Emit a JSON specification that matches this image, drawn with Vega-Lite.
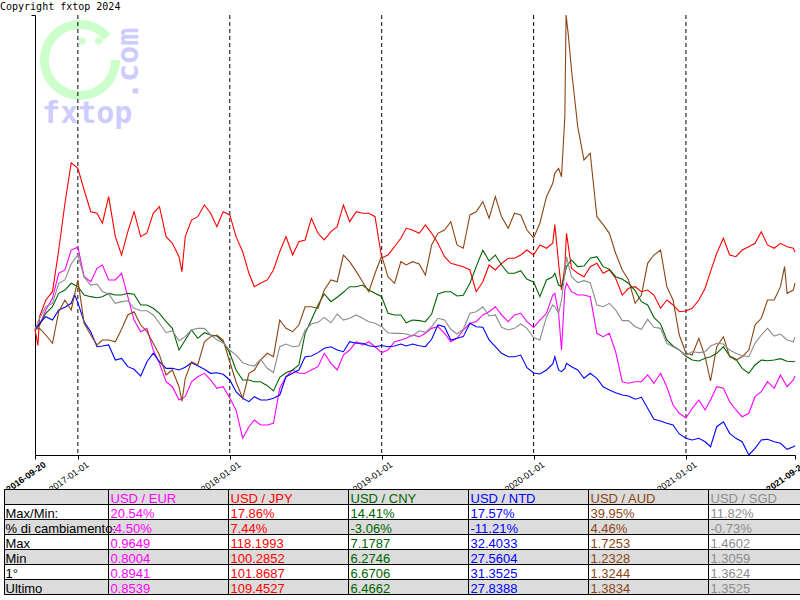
{
"$schema": "https://vega.github.io/schema/vega-lite/v6.json",
"width": 760, "height": 440,
"autosize": "none",
"padding": {"left": 35, "top": 15, "right": 5, "bottom": 145},
"background": "white",
"config": {"view": {"stroke": null}, "font": "Liberation Sans"},
"title": {"text": "Copyright fxtop 2024", "anchor": "start", "frame": "group", "dx": -35, "offset": -7, "font": "DejaVu Sans Mono", "fontSize": 10, "fontWeight": "normal", "color": "black", "baseline": "alphabetic"},
"datasets": {
"fx": [
{"d":"2016-09-20","s":"EUR","v":100},{"d":"2016-10-01","s":"EUR","v":100.42},{"d":"2016-10-16","s":"EUR","v":101.87},{"d":"2016-11-01","s":"EUR","v":102.99},{"d":"2016-11-16","s":"EUR","v":105.4},{"d":"2016-12-01","s":"EUR","v":105.72},{"d":"2016-12-16","s":"EUR","v":107.64},
{"d":"2017-01-01","s":"EUR","v":107.92},{"d":"2017-01-16","s":"EUR","v":105.07},{"d":"2017-02-01","s":"EUR","v":104.59},{"d":"2017-02-16","s":"EUR","v":105.88},{"d":"2017-03-01","s":"EUR","v":106.2},{"d":"2017-03-16","s":"EUR","v":104.76},{"d":"2017-04-01","s":"EUR","v":104.76},{"d":"2017-04-16","s":"EUR","v":105.4},{"d":"2017-05-01","s":"EUR","v":103.15},{"d":"2017-05-16","s":"EUR","v":100.9},{"d":"2017-06-01","s":"EUR","v":99.78},{"d":"2017-06-16","s":"EUR","v":100.11},{"d":"2017-07-01","s":"EUR","v":98.01},{"d":"2017-07-16","s":"EUR","v":96.73},{"d":"2017-08-01","s":"EUR","v":94.96},{"d":"2017-08-16","s":"EUR","v":94.48},{"d":"2017-09-01","s":"EUR","v":93.2},{"d":"2017-09-16","s":"EUR","v":93.52},{"d":"2017-10-01","s":"EUR","v":94.96},{"d":"2017-10-16","s":"EUR","v":95.44},{"d":"2017-11-01","s":"EUR","v":95.77},{"d":"2017-11-16","s":"EUR","v":95.13},{"d":"2017-12-01","s":"EUR","v":94.33},{"d":"2017-12-16","s":"EUR","v":94.48},
{"d":"2018-01-01","s":"EUR","v":93.39},{"d":"2018-01-16","s":"EUR","v":92.24},{"d":"2018-02-01","s":"EUR","v":89.52},{"d":"2018-02-16","s":"EUR","v":90.63},{"d":"2018-03-01","s":"EUR","v":91.27},{"d":"2018-03-16","s":"EUR","v":90.79},{"d":"2018-04-01","s":"EUR","v":90.79},{"d":"2018-04-16","s":"EUR","v":90.96},{"d":"2018-05-01","s":"EUR","v":94.33},{"d":"2018-05-16","s":"EUR","v":95.44},{"d":"2018-06-01","s":"EUR","v":96.09},{"d":"2018-06-16","s":"EUR","v":95.77},{"d":"2018-07-01","s":"EUR","v":95.77},{"d":"2018-07-16","s":"EUR","v":96.09},{"d":"2018-08-01","s":"EUR","v":96.41},{"d":"2018-08-16","s":"EUR","v":97.7},{"d":"2018-09-01","s":"EUR","v":96.73},{"d":"2018-09-16","s":"EUR","v":96.09},{"d":"2018-10-01","s":"EUR","v":97.53},{"d":"2018-10-16","s":"EUR","v":98.01},{"d":"2018-11-01","s":"EUR","v":98.81},{"d":"2018-11-16","s":"EUR","v":98.5},{"d":"2018-12-01","s":"EUR","v":98.81},{"d":"2018-12-16","s":"EUR","v":98.33},
{"d":"2019-01-01","s":"EUR","v":97.77},{"d":"2019-01-16","s":"EUR","v":98.01},{"d":"2019-02-01","s":"EUR","v":98.81},{"d":"2019-02-16","s":"EUR","v":98.98},{"d":"2019-03-01","s":"EUR","v":99.14},{"d":"2019-03-16","s":"EUR","v":99.46},{"d":"2019-04-01","s":"EUR","v":99.3},{"d":"2019-04-16","s":"EUR","v":99.62},{"d":"2019-05-01","s":"EUR","v":100.1},{"d":"2019-05-16","s":"EUR","v":100.26},{"d":"2019-06-01","s":"EUR","v":99.62},{"d":"2019-06-16","s":"EUR","v":98.81},{"d":"2019-07-01","s":"EUR","v":99.14},{"d":"2019-07-16","s":"EUR","v":99.94},{"d":"2019-08-01","s":"EUR","v":100.59},{"d":"2019-08-16","s":"EUR","v":100.74},{"d":"2019-09-01","s":"EUR","v":101.39},{"d":"2019-09-16","s":"EUR","v":101.7},{"d":"2019-10-01","s":"EUR","v":102.18},{"d":"2019-10-16","s":"EUR","v":101.39},{"d":"2019-11-01","s":"EUR","v":100.74},{"d":"2019-11-16","s":"EUR","v":101.39},{"d":"2019-12-01","s":"EUR","v":101.55},{"d":"2019-12-16","s":"EUR","v":100.74},
{"d":"2020-01-01","s":"EUR","v":100.18},{"d":"2020-01-16","s":"EUR","v":100.9},{"d":"2020-02-01","s":"EUR","v":101.55},{"d":"2020-02-16","s":"EUR","v":103.31},{"d":"2020-02-21","s":"EUR","v":103.47},{"d":"2020-03-01","s":"EUR","v":101.55},{"d":"2020-03-08","s":"EUR","v":98.01},{"d":"2020-03-16","s":"EUR","v":103.79},{"d":"2020-03-20","s":"EUR","v":104.44},{"d":"2020-04-01","s":"EUR","v":103.63},{"d":"2020-04-16","s":"EUR","v":103.31},{"d":"2020-05-01","s":"EUR","v":103.31},{"d":"2020-05-16","s":"EUR","v":103.15},{"d":"2020-06-01","s":"EUR","v":99.62},{"d":"2020-06-16","s":"EUR","v":99.3},{"d":"2020-07-01","s":"EUR","v":99.62},{"d":"2020-07-16","s":"EUR","v":97.85},{"d":"2020-08-01","s":"EUR","v":94.96},{"d":"2020-08-16","s":"EUR","v":94.81},{"d":"2020-09-01","s":"EUR","v":94.96},{"d":"2020-09-16","s":"EUR","v":94.96},{"d":"2020-10-01","s":"EUR","v":95.61},{"d":"2020-10-16","s":"EUR","v":94.81},{"d":"2020-11-01","s":"EUR","v":95.77},{"d":"2020-11-16","s":"EUR","v":94.48},{"d":"2020-12-01","s":"EUR","v":92.72},{"d":"2020-12-16","s":"EUR","v":91.92},
{"d":"2021-01-01","s":"EUR","v":91.47},{"d":"2021-01-16","s":"EUR","v":92.4},{"d":"2021-02-01","s":"EUR","v":93.2},{"d":"2021-02-16","s":"EUR","v":92.24},{"d":"2021-03-01","s":"EUR","v":93.2},{"d":"2021-03-16","s":"EUR","v":94.48},{"d":"2021-04-01","s":"EUR","v":94.33},{"d":"2021-04-16","s":"EUR","v":93.04},{"d":"2021-05-01","s":"EUR","v":92.24},{"d":"2021-05-16","s":"EUR","v":91.59},{"d":"2021-06-01","s":"EUR","v":91.92},{"d":"2021-06-16","s":"EUR","v":93.52},{"d":"2021-07-01","s":"EUR","v":94.0},{"d":"2021-07-16","s":"EUR","v":94.96},{"d":"2021-08-01","s":"EUR","v":94.33},{"d":"2021-08-16","s":"EUR","v":95.61},{"d":"2021-09-01","s":"EUR","v":94.48},{"d":"2021-09-16","s":"EUR","v":95.13},{"d":"2021-09-20","s":"EUR","v":95.5},

{"d":"2016-09-20","s":"JPY","v":100},{"d":"2016-09-27","s":"JPY","v":98.45},{"d":"2016-10-01","s":"JPY","v":101.22},{"d":"2016-10-16","s":"JPY","v":102.83},{"d":"2016-11-01","s":"JPY","v":103.63},{"d":"2016-11-16","s":"JPY","v":107.64},{"d":"2016-12-01","s":"JPY","v":112.14},{"d":"2016-12-16","s":"JPY","v":116.03},
{"d":"2017-01-01","s":"JPY","v":115.51},{"d":"2017-01-16","s":"JPY","v":113.42},{"d":"2017-02-01","s":"JPY","v":111.33},{"d":"2017-02-16","s":"JPY","v":111.18},{"d":"2017-03-01","s":"JPY","v":110.22},{"d":"2017-03-16","s":"JPY","v":112.78},{"d":"2017-04-01","s":"JPY","v":108.93},{"d":"2017-04-16","s":"JPY","v":107.16},{"d":"2017-05-01","s":"JPY","v":109.41},{"d":"2017-05-16","s":"JPY","v":111.33},{"d":"2017-06-01","s":"JPY","v":108.93},{"d":"2017-06-16","s":"JPY","v":109.28},{"d":"2017-07-01","s":"JPY","v":111.18},{"d":"2017-07-16","s":"JPY","v":111.81},{"d":"2017-08-01","s":"JPY","v":108.93},{"d":"2017-08-16","s":"JPY","v":108.29},{"d":"2017-09-01","s":"JPY","v":107.0},{"d":"2017-09-08","s":"JPY","v":105.56},{"d":"2017-09-16","s":"JPY","v":108.93},{"d":"2017-10-01","s":"JPY","v":110.53},{"d":"2017-10-16","s":"JPY","v":110.85},{"d":"2017-11-01","s":"JPY","v":111.98},{"d":"2017-11-16","s":"JPY","v":111.18},{"d":"2017-12-01","s":"JPY","v":109.89},{"d":"2017-12-16","s":"JPY","v":111.33},
{"d":"2018-01-01","s":"JPY","v":111.02},{"d":"2018-01-16","s":"JPY","v":108.93},{"d":"2018-02-01","s":"JPY","v":107.48},{"d":"2018-02-16","s":"JPY","v":105.4},{"d":"2018-03-01","s":"JPY","v":104.11},{"d":"2018-03-16","s":"JPY","v":104.44},{"d":"2018-04-01","s":"JPY","v":104.76},{"d":"2018-04-16","s":"JPY","v":105.72},{"d":"2018-05-01","s":"JPY","v":107.48},{"d":"2018-05-16","s":"JPY","v":108.93},{"d":"2018-06-01","s":"JPY","v":107.16},{"d":"2018-06-16","s":"JPY","v":108.44},{"d":"2018-07-01","s":"JPY","v":108.61},{"d":"2018-07-16","s":"JPY","v":110.7},{"d":"2018-08-01","s":"JPY","v":109.25},{"d":"2018-08-16","s":"JPY","v":108.61},{"d":"2018-09-01","s":"JPY","v":109.41},{"d":"2018-09-16","s":"JPY","v":109.89},{"d":"2018-10-01","s":"JPY","v":111.98},{"d":"2018-10-16","s":"JPY","v":110.37},{"d":"2018-11-01","s":"JPY","v":111.33},{"d":"2018-11-16","s":"JPY","v":111.18},{"d":"2018-12-01","s":"JPY","v":111.18},{"d":"2018-12-16","s":"JPY","v":110.85},
{"d":"2019-01-01","s":"JPY","v":106.87},{"d":"2019-01-16","s":"JPY","v":107.16},{"d":"2019-02-01","s":"JPY","v":107.96},{"d":"2019-02-16","s":"JPY","v":108.77},{"d":"2019-03-01","s":"JPY","v":109.73},{"d":"2019-03-16","s":"JPY","v":109.57},{"d":"2019-04-01","s":"JPY","v":109.25},{"d":"2019-04-16","s":"JPY","v":110.05},{"d":"2019-05-01","s":"JPY","v":109.25},{"d":"2019-05-16","s":"JPY","v":108.29},{"d":"2019-06-01","s":"JPY","v":107.0},{"d":"2019-06-16","s":"JPY","v":106.36},{"d":"2019-07-01","s":"JPY","v":106.2},{"d":"2019-07-16","s":"JPY","v":106.04},{"d":"2019-08-01","s":"JPY","v":105.72},{"d":"2019-08-16","s":"JPY","v":103.63},{"d":"2019-09-01","s":"JPY","v":104.59},{"d":"2019-09-16","s":"JPY","v":106.2},{"d":"2019-10-01","s":"JPY","v":105.72},{"d":"2019-10-16","s":"JPY","v":106.36},{"d":"2019-11-01","s":"JPY","v":106.85},{"d":"2019-11-16","s":"JPY","v":106.85},{"d":"2019-12-01","s":"JPY","v":107.16},{"d":"2019-12-16","s":"JPY","v":107.64},
{"d":"2020-01-01","s":"JPY","v":107.16},{"d":"2020-01-16","s":"JPY","v":108.13},{"d":"2020-02-01","s":"JPY","v":107.81},{"d":"2020-02-16","s":"JPY","v":108.29},{"d":"2020-02-21","s":"JPY","v":110.09},{"d":"2020-03-01","s":"JPY","v":106.36},{"d":"2020-03-08","s":"JPY","v":103.79},{"d":"2020-03-16","s":"JPY","v":106.04},{"d":"2020-03-20","s":"JPY","v":109.25},{"d":"2020-04-01","s":"JPY","v":105.88},{"d":"2020-04-16","s":"JPY","v":105.4},{"d":"2020-05-01","s":"JPY","v":105.07},{"d":"2020-05-16","s":"JPY","v":106.04},{"d":"2020-06-01","s":"JPY","v":106.36},{"d":"2020-06-16","s":"JPY","v":105.4},{"d":"2020-07-01","s":"JPY","v":105.72},{"d":"2020-07-16","s":"JPY","v":104.92},{"d":"2020-08-01","s":"JPY","v":103.31},{"d":"2020-08-16","s":"JPY","v":103.96},{"d":"2020-09-01","s":"JPY","v":104.11},{"d":"2020-09-16","s":"JPY","v":103.63},{"d":"2020-10-01","s":"JPY","v":103.79},{"d":"2020-10-16","s":"JPY","v":103.31},{"d":"2020-11-01","s":"JPY","v":102.03},{"d":"2020-11-16","s":"JPY","v":102.83},{"d":"2020-12-01","s":"JPY","v":102.35},{"d":"2020-12-16","s":"JPY","v":101.7},
{"d":"2021-01-01","s":"JPY","v":101.77},{"d":"2021-01-16","s":"JPY","v":102.03},{"d":"2021-02-01","s":"JPY","v":102.83},{"d":"2021-02-16","s":"JPY","v":103.96},{"d":"2021-03-01","s":"JPY","v":105.56},{"d":"2021-03-16","s":"JPY","v":107.33},{"d":"2021-04-01","s":"JPY","v":108.77},{"d":"2021-04-16","s":"JPY","v":107.16},{"d":"2021-05-01","s":"JPY","v":107.0},{"d":"2021-05-16","s":"JPY","v":107.64},{"d":"2021-06-01","s":"JPY","v":107.96},{"d":"2021-06-16","s":"JPY","v":108.29},{"d":"2021-07-01","s":"JPY","v":109.41},{"d":"2021-07-16","s":"JPY","v":108.13},{"d":"2021-08-01","s":"JPY","v":107.81},{"d":"2021-08-16","s":"JPY","v":108.29},{"d":"2021-09-01","s":"JPY","v":107.96},{"d":"2021-09-16","s":"JPY","v":107.81},{"d":"2021-09-20","s":"JPY","v":107.44},

{"d":"2016-09-20","s":"CNY","v":100},{"d":"2016-10-01","s":"CNY","v":100.42},{"d":"2016-10-16","s":"CNY","v":101.55},{"d":"2016-11-01","s":"CNY","v":102.18},{"d":"2016-11-16","s":"CNY","v":103.47},{"d":"2016-12-01","s":"CNY","v":103.79},{"d":"2016-12-16","s":"CNY","v":104.44},
{"d":"2017-01-01","s":"CNY","v":104.11},{"d":"2017-01-16","s":"CNY","v":103.31},{"d":"2017-02-01","s":"CNY","v":103.15},{"d":"2017-02-16","s":"CNY","v":103.05},{"d":"2017-03-01","s":"CNY","v":103.15},{"d":"2017-03-16","s":"CNY","v":103.47},{"d":"2017-04-01","s":"CNY","v":103.31},{"d":"2017-04-16","s":"CNY","v":103.31},{"d":"2017-05-01","s":"CNY","v":103.47},{"d":"2017-05-16","s":"CNY","v":103.38},{"d":"2017-06-01","s":"CNY","v":102.35},{"d":"2017-06-16","s":"CNY","v":102.35},{"d":"2017-07-01","s":"CNY","v":102.03},{"d":"2017-07-16","s":"CNY","v":101.55},{"d":"2017-08-01","s":"CNY","v":100.74},{"d":"2017-08-16","s":"CNY","v":100.1},{"d":"2017-09-01","s":"CNY","v":98.01},{"d":"2017-09-16","s":"CNY","v":98.98},{"d":"2017-10-01","s":"CNY","v":99.94},{"d":"2017-10-16","s":"CNY","v":99.14},{"d":"2017-11-01","s":"CNY","v":99.68},{"d":"2017-11-16","s":"CNY","v":99.46},{"d":"2017-12-01","s":"CNY","v":99.36},{"d":"2017-12-16","s":"CNY","v":98.81},
{"d":"2018-01-01","s":"CNY","v":97.72},{"d":"2018-01-16","s":"CNY","v":96.09},{"d":"2018-02-01","s":"CNY","v":95.13},{"d":"2018-02-16","s":"CNY","v":95.13},{"d":"2018-03-01","s":"CNY","v":94.96},{"d":"2018-03-16","s":"CNY","v":94.96},{"d":"2018-04-01","s":"CNY","v":94.58},{"d":"2018-04-16","s":"CNY","v":94.07},{"d":"2018-05-01","s":"CNY","v":95.39},{"d":"2018-05-16","s":"CNY","v":95.83},{"d":"2018-06-01","s":"CNY","v":96.09},{"d":"2018-06-16","s":"CNY","v":96.57},{"d":"2018-07-01","s":"CNY","v":99.62},{"d":"2018-07-16","s":"CNY","v":100.9},{"d":"2018-08-01","s":"CNY","v":102.35},{"d":"2018-08-16","s":"CNY","v":103.41},{"d":"2018-09-01","s":"CNY","v":102.67},{"d":"2018-09-16","s":"CNY","v":103.09},{"d":"2018-10-01","s":"CNY","v":103.57},{"d":"2018-10-16","s":"CNY","v":104.11},{"d":"2018-11-01","s":"CNY","v":104.11},{"d":"2018-11-16","s":"CNY","v":104.27},{"d":"2018-12-01","s":"CNY","v":103.79},{"d":"2018-12-16","s":"CNY","v":103.47},
{"d":"2019-01-01","s":"CNY","v":103.15},{"d":"2019-01-16","s":"CNY","v":101.55},{"d":"2019-02-01","s":"CNY","v":101.39},{"d":"2019-02-16","s":"CNY","v":101.39},{"d":"2019-03-01","s":"CNY","v":100.64},{"d":"2019-03-16","s":"CNY","v":100.9},{"d":"2019-04-01","s":"CNY","v":100.84},{"d":"2019-04-16","s":"CNY","v":100.74},{"d":"2019-05-01","s":"CNY","v":101.48},{"d":"2019-05-16","s":"CNY","v":103.41},{"d":"2019-06-01","s":"CNY","v":103.63},{"d":"2019-06-16","s":"CNY","v":103.63},{"d":"2019-07-01","s":"CNY","v":103.22},{"d":"2019-07-16","s":"CNY","v":103.28},{"d":"2019-08-01","s":"CNY","v":104.44},{"d":"2019-08-16","s":"CNY","v":106.04},{"d":"2019-09-01","s":"CNY","v":107.62},{"d":"2019-09-16","s":"CNY","v":106.59},{"d":"2019-10-01","s":"CNY","v":107.16},{"d":"2019-10-16","s":"CNY","v":106.2},{"d":"2019-11-01","s":"CNY","v":105.4},{"d":"2019-11-16","s":"CNY","v":105.4},{"d":"2019-12-01","s":"CNY","v":105.65},{"d":"2019-12-16","s":"CNY","v":104.82},
{"d":"2020-01-01","s":"CNY","v":104.56},{"d":"2020-01-16","s":"CNY","v":103.15},{"d":"2020-02-01","s":"CNY","v":104.76},{"d":"2020-02-16","s":"CNY","v":105.07},{"d":"2020-02-21","s":"CNY","v":105.4},{"d":"2020-03-01","s":"CNY","v":104.27},{"d":"2020-03-08","s":"CNY","v":104.11},{"d":"2020-03-16","s":"CNY","v":105.33},{"d":"2020-03-20","s":"CNY","v":106.04},{"d":"2020-04-01","s":"CNY","v":106.68},{"d":"2020-04-16","s":"CNY","v":106.04},{"d":"2020-05-01","s":"CNY","v":106.1},{"d":"2020-05-16","s":"CNY","v":106.85},{"d":"2020-06-01","s":"CNY","v":107.0},{"d":"2020-06-16","s":"CNY","v":106.04},{"d":"2020-07-01","s":"CNY","v":105.79},{"d":"2020-07-16","s":"CNY","v":105.07},{"d":"2020-08-01","s":"CNY","v":104.82},{"d":"2020-08-16","s":"CNY","v":104.44},{"d":"2020-09-01","s":"CNY","v":103.73},{"d":"2020-09-16","s":"CNY","v":102.67},{"d":"2020-10-01","s":"CNY","v":102.35},{"d":"2020-10-16","s":"CNY","v":101.16},{"d":"2020-11-01","s":"CNY","v":100.52},{"d":"2020-11-16","s":"CNY","v":98.98},{"d":"2020-12-01","s":"CNY","v":98.4},{"d":"2020-12-16","s":"CNY","v":98.02},
{"d":"2021-01-01","s":"CNY","v":97.41},{"d":"2021-01-16","s":"CNY","v":97.05},{"d":"2021-02-01","s":"CNY","v":96.96},{"d":"2021-02-16","s":"CNY","v":97.22},{"d":"2021-03-01","s":"CNY","v":97.37},{"d":"2021-03-16","s":"CNY","v":97.7},{"d":"2021-04-01","s":"CNY","v":98.33},{"d":"2021-04-16","s":"CNY","v":97.44},{"d":"2021-05-01","s":"CNY","v":97.12},{"d":"2021-05-16","s":"CNY","v":96.25},{"d":"2021-06-01","s":"CNY","v":95.77},{"d":"2021-06-16","s":"CNY","v":96.57},{"d":"2021-07-01","s":"CNY","v":97.05},{"d":"2021-07-16","s":"CNY","v":96.98},{"d":"2021-08-01","s":"CNY","v":97.05},{"d":"2021-08-16","s":"CNY","v":97.18},{"d":"2021-09-01","s":"CNY","v":96.93},{"d":"2021-09-16","s":"CNY","v":96.89},{"d":"2021-09-20","s":"CNY","v":96.94},

{"d":"2016-09-20","s":"NTD","v":100},{"d":"2016-10-01","s":"NTD","v":100.59},{"d":"2016-10-16","s":"NTD","v":101.22},{"d":"2016-11-01","s":"NTD","v":100.9},{"d":"2016-11-16","s":"NTD","v":101.87},{"d":"2016-12-01","s":"NTD","v":102.13},{"d":"2016-12-16","s":"NTD","v":102.51},{"d":"2016-12-24","s":"NTD","v":103.35},
{"d":"2017-01-01","s":"NTD","v":102.57},{"d":"2017-01-16","s":"NTD","v":100.74},{"d":"2017-02-01","s":"NTD","v":99.78},{"d":"2017-02-16","s":"NTD","v":98.33},{"d":"2017-03-01","s":"NTD","v":98.4},{"d":"2017-03-16","s":"NTD","v":98.5},{"d":"2017-04-01","s":"NTD","v":97.05},{"d":"2017-04-16","s":"NTD","v":97.21},{"d":"2017-05-01","s":"NTD","v":96.41},{"d":"2017-05-16","s":"NTD","v":96.16},{"d":"2017-06-01","s":"NTD","v":95.51},{"d":"2017-06-16","s":"NTD","v":96.89},{"d":"2017-07-01","s":"NTD","v":97.7},{"d":"2017-07-16","s":"NTD","v":96.89},{"d":"2017-08-01","s":"NTD","v":96.25},{"d":"2017-08-16","s":"NTD","v":96.25},{"d":"2017-09-01","s":"NTD","v":96.09},{"d":"2017-09-16","s":"NTD","v":96.35},{"d":"2017-10-01","s":"NTD","v":96.79},{"d":"2017-10-16","s":"NTD","v":96.5},{"d":"2017-11-01","s":"NTD","v":96.16},{"d":"2017-11-16","s":"NTD","v":95.77},{"d":"2017-12-01","s":"NTD","v":95.83},{"d":"2017-12-16","s":"NTD","v":95.68},
{"d":"2018-01-01","s":"NTD","v":95.13},{"d":"2018-01-16","s":"NTD","v":94.0},{"d":"2018-02-01","s":"NTD","v":93.36},{"d":"2018-02-16","s":"NTD","v":93.04},{"d":"2018-03-01","s":"NTD","v":93.52},{"d":"2018-03-16","s":"NTD","v":93.2},{"d":"2018-04-01","s":"NTD","v":93.2},{"d":"2018-04-16","s":"NTD","v":93.36},{"d":"2018-05-01","s":"NTD","v":93.68},{"d":"2018-05-16","s":"NTD","v":95.44},{"d":"2018-06-01","s":"NTD","v":95.77},{"d":"2018-06-16","s":"NTD","v":96.09},{"d":"2018-07-01","s":"NTD","v":97.37},{"d":"2018-07-16","s":"NTD","v":97.44},{"d":"2018-08-01","s":"NTD","v":97.76},{"d":"2018-08-16","s":"NTD","v":98.18},{"d":"2018-09-01","s":"NTD","v":98.33},{"d":"2018-09-16","s":"NTD","v":98.01},{"d":"2018-10-01","s":"NTD","v":97.85},{"d":"2018-10-16","s":"NTD","v":98.81},{"d":"2018-11-01","s":"NTD","v":98.66},{"d":"2018-11-16","s":"NTD","v":98.66},{"d":"2018-12-01","s":"NTD","v":98.43},{"d":"2018-12-16","s":"NTD","v":98.33},
{"d":"2019-01-01","s":"NTD","v":98.45},{"d":"2019-01-16","s":"NTD","v":98.33},{"d":"2019-02-01","s":"NTD","v":98.4},{"d":"2019-02-16","s":"NTD","v":98.59},{"d":"2019-03-01","s":"NTD","v":98.4},{"d":"2019-03-16","s":"NTD","v":98.59},{"d":"2019-04-01","s":"NTD","v":98.43},{"d":"2019-04-16","s":"NTD","v":98.33},{"d":"2019-05-01","s":"NTD","v":99.05},{"d":"2019-05-16","s":"NTD","v":100.42},{"d":"2019-06-01","s":"NTD","v":100.26},{"d":"2019-06-16","s":"NTD","v":98.98},{"d":"2019-07-01","s":"NTD","v":99.14},{"d":"2019-07-16","s":"NTD","v":99.3},{"d":"2019-08-01","s":"NTD","v":100.59},{"d":"2019-08-16","s":"NTD","v":100.26},{"d":"2019-09-01","s":"NTD","v":100.2},{"d":"2019-09-16","s":"NTD","v":98.98},{"d":"2019-10-01","s":"NTD","v":98.33},{"d":"2019-10-16","s":"NTD","v":97.7},{"d":"2019-11-01","s":"NTD","v":97.37},{"d":"2019-11-16","s":"NTD","v":97.37},{"d":"2019-12-01","s":"NTD","v":97.53},{"d":"2019-12-16","s":"NTD","v":96.31},
{"d":"2020-01-01","s":"NTD","v":95.8},{"d":"2020-01-16","s":"NTD","v":95.7},{"d":"2020-02-01","s":"NTD","v":96.09},{"d":"2020-02-16","s":"NTD","v":96.67},{"d":"2020-02-21","s":"NTD","v":97.37},{"d":"2020-03-01","s":"NTD","v":96.09},{"d":"2020-03-08","s":"NTD","v":95.93},{"d":"2020-03-16","s":"NTD","v":96.25},{"d":"2020-03-20","s":"NTD","v":96.73},{"d":"2020-04-01","s":"NTD","v":96.41},{"d":"2020-04-16","s":"NTD","v":96.09},{"d":"2020-05-01","s":"NTD","v":95.29},{"d":"2020-05-16","s":"NTD","v":95.77},{"d":"2020-06-01","s":"NTD","v":95.29},{"d":"2020-06-16","s":"NTD","v":94.48},{"d":"2020-07-01","s":"NTD","v":94.16},{"d":"2020-07-16","s":"NTD","v":93.9},{"d":"2020-08-01","s":"NTD","v":93.68},{"d":"2020-08-16","s":"NTD","v":93.59},{"d":"2020-09-01","s":"NTD","v":93.27},{"d":"2020-09-16","s":"NTD","v":93.46},{"d":"2020-10-01","s":"NTD","v":92.4},{"d":"2020-10-16","s":"NTD","v":91.34},{"d":"2020-11-01","s":"NTD","v":91.18},{"d":"2020-11-16","s":"NTD","v":90.96},{"d":"2020-12-01","s":"NTD","v":90.79},{"d":"2020-12-16","s":"NTD","v":89.93},
{"d":"2021-01-01","s":"NTD","v":89.51},{"d":"2021-01-16","s":"NTD","v":89.35},{"d":"2021-02-01","s":"NTD","v":89.51},{"d":"2021-02-16","s":"NTD","v":89.18},{"d":"2021-03-01","s":"NTD","v":88.7},{"d":"2021-03-16","s":"NTD","v":90.63},{"d":"2021-04-01","s":"NTD","v":91.11},{"d":"2021-04-16","s":"NTD","v":89.99},{"d":"2021-05-01","s":"NTD","v":89.51},{"d":"2021-05-16","s":"NTD","v":89.18},{"d":"2021-06-01","s":"NTD","v":87.91},{"d":"2021-06-16","s":"NTD","v":88.55},{"d":"2021-07-01","s":"NTD","v":89.35},{"d":"2021-07-16","s":"NTD","v":89.42},{"d":"2021-08-01","s":"NTD","v":89.18},{"d":"2021-08-16","s":"NTD","v":89.03},{"d":"2021-09-01","s":"NTD","v":88.45},{"d":"2021-09-16","s":"NTD","v":88.7},{"d":"2021-09-20","s":"NTD","v":88.79},

{"d":"2016-09-20","s":"AUD","v":100},{"d":"2016-10-01","s":"AUD","v":100.1},{"d":"2016-10-16","s":"AUD","v":99.46},{"d":"2016-11-01","s":"AUD","v":98.66},{"d":"2016-11-16","s":"AUD","v":101.7},{"d":"2016-12-01","s":"AUD","v":102.83},{"d":"2016-12-16","s":"AUD","v":101.87},
{"d":"2017-01-01","s":"AUD","v":104.76},{"d":"2017-01-16","s":"AUD","v":100.59},{"d":"2017-02-01","s":"AUD","v":99.46},{"d":"2017-02-16","s":"AUD","v":98.5},{"d":"2017-03-01","s":"AUD","v":98.98},{"d":"2017-03-16","s":"AUD","v":98.98},{"d":"2017-04-01","s":"AUD","v":98.81},{"d":"2017-04-16","s":"AUD","v":100.01},{"d":"2017-05-01","s":"AUD","v":101.39},{"d":"2017-05-16","s":"AUD","v":101.7},{"d":"2017-06-01","s":"AUD","v":100.42},{"d":"2017-06-16","s":"AUD","v":99.78},{"d":"2017-07-01","s":"AUD","v":98.66},{"d":"2017-07-16","s":"AUD","v":97.53},{"d":"2017-08-01","s":"AUD","v":95.61},{"d":"2017-08-16","s":"AUD","v":96.09},{"d":"2017-09-01","s":"AUD","v":94.48},{"d":"2017-09-08","s":"AUD","v":93.08},{"d":"2017-09-16","s":"AUD","v":95.29},{"d":"2017-10-01","s":"AUD","v":96.89},{"d":"2017-10-16","s":"AUD","v":96.57},{"d":"2017-11-01","s":"AUD","v":98.81},{"d":"2017-11-16","s":"AUD","v":99.3},{"d":"2017-12-01","s":"AUD","v":99.46},{"d":"2017-12-16","s":"AUD","v":98.98},
{"d":"2018-01-01","s":"AUD","v":96.86},{"d":"2018-01-16","s":"AUD","v":94.96},{"d":"2018-02-01","s":"AUD","v":93.36},{"d":"2018-02-16","s":"AUD","v":95.77},{"d":"2018-03-01","s":"AUD","v":96.09},{"d":"2018-03-16","s":"AUD","v":97.05},{"d":"2018-04-01","s":"AUD","v":97.7},{"d":"2018-04-16","s":"AUD","v":97.37},{"d":"2018-05-01","s":"AUD","v":100.9},{"d":"2018-05-16","s":"AUD","v":100.1},{"d":"2018-06-01","s":"AUD","v":99.78},{"d":"2018-06-16","s":"AUD","v":100.42},{"d":"2018-07-01","s":"AUD","v":102.18},{"d":"2018-07-16","s":"AUD","v":102.18},{"d":"2018-08-01","s":"AUD","v":102.03},{"d":"2018-08-16","s":"AUD","v":103.79},{"d":"2018-09-01","s":"AUD","v":104.76},{"d":"2018-09-16","s":"AUD","v":104.59},{"d":"2018-10-01","s":"AUD","v":107.16},{"d":"2018-10-16","s":"AUD","v":106.52},{"d":"2018-11-01","s":"AUD","v":105.56},{"d":"2018-11-16","s":"AUD","v":104.59},{"d":"2018-12-01","s":"AUD","v":103.63},{"d":"2018-12-16","s":"AUD","v":105.4},
{"d":"2019-01-01","s":"AUD","v":107.07},{"d":"2019-01-16","s":"AUD","v":105.07},{"d":"2019-02-01","s":"AUD","v":104.44},{"d":"2019-02-16","s":"AUD","v":106.52},{"d":"2019-03-01","s":"AUD","v":106.2},{"d":"2019-03-16","s":"AUD","v":106.52},{"d":"2019-04-01","s":"AUD","v":106.3},{"d":"2019-04-16","s":"AUD","v":105.24},{"d":"2019-05-01","s":"AUD","v":108.13},{"d":"2019-05-16","s":"AUD","v":109.25},{"d":"2019-06-01","s":"AUD","v":109.57},{"d":"2019-06-16","s":"AUD","v":110.37},{"d":"2019-07-01","s":"AUD","v":108.13},{"d":"2019-07-16","s":"AUD","v":107.81},{"d":"2019-08-01","s":"AUD","v":111.02},{"d":"2019-08-16","s":"AUD","v":111.33},{"d":"2019-09-01","s":"AUD","v":112.3},{"d":"2019-09-16","s":"AUD","v":110.7},{"d":"2019-10-01","s":"AUD","v":112.78},{"d":"2019-10-16","s":"AUD","v":110.85},{"d":"2019-11-01","s":"AUD","v":109.73},{"d":"2019-11-16","s":"AUD","v":111.18},{"d":"2019-12-01","s":"AUD","v":111.02},{"d":"2019-12-16","s":"AUD","v":109.57},
{"d":"2020-01-01","s":"AUD","v":108.8},{"d":"2020-01-16","s":"AUD","v":110.22},{"d":"2020-02-01","s":"AUD","v":112.78},{"d":"2020-02-16","s":"AUD","v":114.07},{"d":"2020-02-21","s":"AUD","v":115.03},{"d":"2020-03-01","s":"AUD","v":115.51},{"d":"2020-03-08","s":"AUD","v":114.7},{"d":"2020-03-16","s":"AUD","v":120.48},{"d":"2020-03-19","s":"AUD","v":130.27},{"d":"2020-03-24","s":"AUD","v":128.5},{"d":"2020-04-01","s":"AUD","v":124.98},{"d":"2020-04-16","s":"AUD","v":119.52},{"d":"2020-05-01","s":"AUD","v":116.31},{"d":"2020-05-16","s":"AUD","v":116.96},{"d":"2020-06-01","s":"AUD","v":110.85},{"d":"2020-06-16","s":"AUD","v":110.09},{"d":"2020-07-01","s":"AUD","v":109.25},{"d":"2020-07-16","s":"AUD","v":107.33},{"d":"2020-08-01","s":"AUD","v":105.72},{"d":"2020-08-16","s":"AUD","v":104.76},{"d":"2020-09-01","s":"AUD","v":102.51},{"d":"2020-09-16","s":"AUD","v":103.31},{"d":"2020-10-01","s":"AUD","v":106.36},{"d":"2020-10-16","s":"AUD","v":107.16},{"d":"2020-11-01","s":"AUD","v":107.64},{"d":"2020-11-16","s":"AUD","v":104.11},{"d":"2020-12-01","s":"AUD","v":102.83},{"d":"2020-12-16","s":"AUD","v":99.46},
{"d":"2021-01-01","s":"AUD","v":97.72},{"d":"2021-01-16","s":"AUD","v":97.53},{"d":"2021-02-01","s":"AUD","v":99.14},{"d":"2021-02-16","s":"AUD","v":97.37},{"d":"2021-03-01","s":"AUD","v":95.03},{"d":"2021-03-16","s":"AUD","v":98.33},{"d":"2021-04-01","s":"AUD","v":99.3},{"d":"2021-04-16","s":"AUD","v":97.37},{"d":"2021-05-01","s":"AUD","v":97.05},{"d":"2021-05-16","s":"AUD","v":97.37},{"d":"2021-06-01","s":"AUD","v":98.01},{"d":"2021-06-16","s":"AUD","v":100.42},{"d":"2021-07-01","s":"AUD","v":101.07},{"d":"2021-07-16","s":"AUD","v":102.83},{"d":"2021-08-01","s":"AUD","v":102.83},{"d":"2021-08-16","s":"AUD","v":104.11},{"d":"2021-08-26","s":"AUD","v":106.04},{"d":"2021-09-01","s":"AUD","v":103.47},{"d":"2021-09-16","s":"AUD","v":103.79},{"d":"2021-09-20","s":"AUD","v":104.46},

{"d":"2016-09-20","s":"SGD","v":100},{"d":"2016-10-01","s":"SGD","v":101.07},{"d":"2016-10-16","s":"SGD","v":102.18},{"d":"2016-11-01","s":"SGD","v":102.51},{"d":"2016-11-16","s":"SGD","v":104.44},{"d":"2016-12-01","s":"SGD","v":104.76},{"d":"2016-12-16","s":"SGD","v":106.3},
{"d":"2017-01-01","s":"SGD","v":107.18},{"d":"2017-01-16","s":"SGD","v":105.02},{"d":"2017-02-01","s":"SGD","v":104.27},{"d":"2017-02-16","s":"SGD","v":104.37},{"d":"2017-03-01","s":"SGD","v":103.63},{"d":"2017-03-16","s":"SGD","v":103.41},{"d":"2017-04-01","s":"SGD","v":102.51},{"d":"2017-04-16","s":"SGD","v":102.67},{"d":"2017-05-01","s":"SGD","v":102.76},{"d":"2017-05-16","s":"SGD","v":102.03},{"d":"2017-06-01","s":"SGD","v":101.8},{"d":"2017-06-16","s":"SGD","v":101.8},{"d":"2017-07-01","s":"SGD","v":101.39},{"d":"2017-07-16","s":"SGD","v":100.59},{"d":"2017-08-01","s":"SGD","v":99.68},{"d":"2017-08-16","s":"SGD","v":99.87},{"d":"2017-09-01","s":"SGD","v":98.91},{"d":"2017-09-16","s":"SGD","v":99.3},{"d":"2017-10-01","s":"SGD","v":99.94},{"d":"2017-10-16","s":"SGD","v":100.1},{"d":"2017-11-01","s":"SGD","v":100.1},{"d":"2017-11-16","s":"SGD","v":99.46},{"d":"2017-12-01","s":"SGD","v":98.99},{"d":"2017-12-16","s":"SGD","v":98.72},
{"d":"2018-01-01","s":"SGD","v":98.01},{"d":"2018-01-16","s":"SGD","v":97.53},{"d":"2018-02-01","s":"SGD","v":96.79},{"d":"2018-02-16","s":"SGD","v":96.57},{"d":"2018-03-01","s":"SGD","v":96.47},{"d":"2018-03-16","s":"SGD","v":97.12},{"d":"2018-04-01","s":"SGD","v":96.25},{"d":"2018-04-16","s":"SGD","v":95.85},{"d":"2018-05-01","s":"SGD","v":98.33},{"d":"2018-05-16","s":"SGD","v":98.59},{"d":"2018-06-01","s":"SGD","v":98.33},{"d":"2018-06-16","s":"SGD","v":98.4},{"d":"2018-07-01","s":"SGD","v":99.94},{"d":"2018-07-16","s":"SGD","v":100.52},{"d":"2018-08-01","s":"SGD","v":100.68},{"d":"2018-08-16","s":"SGD","v":101.16},{"d":"2018-09-01","s":"SGD","v":100.64},{"d":"2018-09-16","s":"SGD","v":101.48},{"d":"2018-10-01","s":"SGD","v":100.9},{"d":"2018-10-16","s":"SGD","v":101.07},{"d":"2018-11-01","s":"SGD","v":101.39},{"d":"2018-11-16","s":"SGD","v":101.07},{"d":"2018-12-01","s":"SGD","v":100.74},{"d":"2018-12-16","s":"SGD","v":100.59},
{"d":"2019-01-01","s":"SGD","v":100.26},{"d":"2019-01-16","s":"SGD","v":99.68},{"d":"2019-02-01","s":"SGD","v":99.62},{"d":"2019-02-16","s":"SGD","v":99.62},{"d":"2019-03-01","s":"SGD","v":99.55},{"d":"2019-03-16","s":"SGD","v":99.36},{"d":"2019-04-01","s":"SGD","v":99.87},{"d":"2019-04-16","s":"SGD","v":99.72},{"d":"2019-05-01","s":"SGD","v":100.26},{"d":"2019-05-16","s":"SGD","v":101.07},{"d":"2019-06-01","s":"SGD","v":100.9},{"d":"2019-06-16","s":"SGD","v":100.01},{"d":"2019-07-01","s":"SGD","v":99.55},{"d":"2019-07-16","s":"SGD","v":100.01},{"d":"2019-08-01","s":"SGD","v":101.55},{"d":"2019-08-16","s":"SGD","v":101.7},{"d":"2019-09-01","s":"SGD","v":102.18},{"d":"2019-09-16","s":"SGD","v":101.29},{"d":"2019-10-01","s":"SGD","v":101.39},{"d":"2019-10-16","s":"SGD","v":100.2},{"d":"2019-11-01","s":"SGD","v":99.94},{"d":"2019-11-16","s":"SGD","v":100.1},{"d":"2019-12-01","s":"SGD","v":100.52},{"d":"2019-12-16","s":"SGD","v":100.1},
{"d":"2020-01-01","s":"SGD","v":99.22},{"d":"2020-01-16","s":"SGD","v":98.98},{"d":"2020-02-01","s":"SGD","v":101.22},{"d":"2020-02-16","s":"SGD","v":102.35},{"d":"2020-02-21","s":"SGD","v":102.18},{"d":"2020-03-01","s":"SGD","v":101.55},{"d":"2020-03-08","s":"SGD","v":102.83},{"d":"2020-03-16","s":"SGD","v":105.4},{"d":"2020-03-20","s":"SGD","v":106.97},{"d":"2020-04-01","s":"SGD","v":105.07},{"d":"2020-04-16","s":"SGD","v":104.5},{"d":"2020-05-01","s":"SGD","v":104.69},{"d":"2020-05-16","s":"SGD","v":104.5},{"d":"2020-06-01","s":"SGD","v":102.35},{"d":"2020-06-16","s":"SGD","v":102.18},{"d":"2020-07-01","s":"SGD","v":102.51},{"d":"2020-07-16","s":"SGD","v":101.87},{"d":"2020-08-01","s":"SGD","v":100.84},{"d":"2020-08-16","s":"SGD","v":100.84},{"d":"2020-09-01","s":"SGD","v":100.26},{"d":"2020-09-16","s":"SGD","v":100.01},{"d":"2020-10-01","s":"SGD","v":100.97},{"d":"2020-10-16","s":"SGD","v":100.2},{"d":"2020-11-01","s":"SGD","v":100.1},{"d":"2020-11-16","s":"SGD","v":98.66},{"d":"2020-12-01","s":"SGD","v":98.33},{"d":"2020-12-16","s":"SGD","v":98.01},
{"d":"2021-01-01","s":"SGD","v":97.53},{"d":"2021-01-16","s":"SGD","v":97.85},{"d":"2021-02-01","s":"SGD","v":97.76},{"d":"2021-02-16","s":"SGD","v":97.85},{"d":"2021-03-01","s":"SGD","v":98.4},{"d":"2021-03-16","s":"SGD","v":98.66},{"d":"2021-04-01","s":"SGD","v":98.59},{"d":"2021-04-16","s":"SGD","v":98.01},{"d":"2021-05-01","s":"SGD","v":97.7},{"d":"2021-05-16","s":"SGD","v":97.47},{"d":"2021-06-01","s":"SGD","v":97.37},{"d":"2021-06-16","s":"SGD","v":98.66},{"d":"2021-07-01","s":"SGD","v":99.46},{"d":"2021-07-16","s":"SGD","v":100.1},{"d":"2021-08-01","s":"SGD","v":99.36},{"d":"2021-08-16","s":"SGD","v":99.55},{"d":"2021-09-01","s":"SGD","v":98.98},{"d":"2021-09-16","s":"SGD","v":98.81},{"d":"2021-09-20","s":"SGD","v":99.27}
],
"tbl": [
{"r":"h","s":"label","t":""},{"r":"Max/Min:","s":"label","t":"Max/Min:"},{"r":"% di cambiamento:","s":"label","t":"% di cambiamento:"},{"r":"Max","s":"label","t":"Max"},{"r":"Min","s":"label","t":"Min"},{"r":"1°","s":"label","t":"1°"},{"r":"Ultimo","s":"label","t":"Ultimo"},
{"r":"h","s":"EUR","t":"USD / EUR"},{"r":"Max/Min:","s":"EUR","t":"20.54%"},{"r":"% di cambiamento:","s":"EUR","t":"-4.50%"},{"r":"Max","s":"EUR","t":"0.9649"},{"r":"Min","s":"EUR","t":"0.8004"},{"r":"1°","s":"EUR","t":"0.8941"},{"r":"Ultimo","s":"EUR","t":"0.8539"},
{"r":"h","s":"JPY","t":"USD / JPY"},{"r":"Max/Min:","s":"JPY","t":"17.86%"},{"r":"% di cambiamento:","s":"JPY","t":"7.44%"},{"r":"Max","s":"JPY","t":"118.1993"},{"r":"Min","s":"JPY","t":"100.2852"},{"r":"1°","s":"JPY","t":"101.8687"},{"r":"Ultimo","s":"JPY","t":"109.4527"},
{"r":"h","s":"CNY","t":"USD / CNY"},{"r":"Max/Min:","s":"CNY","t":"14.41%"},{"r":"% di cambiamento:","s":"CNY","t":"-3.06%"},{"r":"Max","s":"CNY","t":"7.1787"},{"r":"Min","s":"CNY","t":"6.2746"},{"r":"1°","s":"CNY","t":"6.6706"},{"r":"Ultimo","s":"CNY","t":"6.4662"},
{"r":"h","s":"NTD","t":"USD / NTD"},{"r":"Max/Min:","s":"NTD","t":"17.57%"},{"r":"% di cambiamento:","s":"NTD","t":"-11.21%"},{"r":"Max","s":"NTD","t":"32.4033"},{"r":"Min","s":"NTD","t":"27.5604"},{"r":"1°","s":"NTD","t":"31.3525"},{"r":"Ultimo","s":"NTD","t":"27.8388"},
{"r":"h","s":"AUD","t":"USD / AUD"},{"r":"Max/Min:","s":"AUD","t":"39.95%"},{"r":"% di cambiamento:","s":"AUD","t":"4.46%"},{"r":"Max","s":"AUD","t":"1.7253"},{"r":"Min","s":"AUD","t":"1.2328"},{"r":"1°","s":"AUD","t":"1.3244"},{"r":"Ultimo","s":"AUD","t":"1.3834"},
{"r":"h","s":"SGD","t":"USD / SGD"},{"r":"Max/Min:","s":"SGD","t":"11.82%"},{"r":"% di cambiamento:","s":"SGD","t":"-0.73%"},{"r":"Max","s":"SGD","t":"1.4602"},{"r":"Min","s":"SGD","t":"1.3059"},{"r":"1°","s":"SGD","t":"1.3624"},{"r":"Ultimo","s":"SGD","t":"1.3525"}
]
},
"layer": [
{
"layer": [
{"data": {"values": [{}]}, "mark": {"type": "arc", "innerRadius": 31, "outerRadius": 40, "theta": 1.571, "theta2": 7.156, "color": "#ccffcc"},
 "encoding": {"x": {"datum": {"year": 2017, "month": 1, "date": 6, "utc": true}, "type": "temporal", "title": null}, "y": {"datum": 125.94, "type": "quantitative", "title": null}}},
{"data": {"values": [{}]}, "mark": {"type": "point", "shape": "circle", "filled": true, "size": 55, "color": "#ccffcc", "opacity": 1},
 "encoding": {"x": {"datum": {"year": 2017, "month": 1, "date": 11, "utc": true}, "type": "temporal", "title": null}, "y": {"datum": 127.77, "type": "quantitative", "title": null}}},
{"data": {"values": [{}]}, "mark": {"type": "point", "shape": "circle", "filled": true, "size": 55, "color": "#ccffcc", "opacity": 1},
 "encoding": {"x": {"datum": {"year": 2017, "month": 2, "date": 20, "utc": true}, "type": "temporal", "title": null}, "y": {"datum": 127.77, "type": "quantitative", "title": null}}},
{"data": {"values": [{}]}, "mark": {"type": "text", "text": "fxtop", "font": "DejaVu Sans Mono", "fontSize": 30, "fontWeight": "bold", "color": "#ccccff", "align": "left", "baseline": "alphabetic"},
 "encoding": {"x": {"datum": {"year": 2016, "month": 10, "date": 7, "utc": true}, "type": "temporal", "title": null}, "y": {"datum": 119.87, "type": "quantitative", "title": null}}},
{"data": {"values": [{}]}, "mark": {"type": "text", "text": ".com", "font": "DejaVu Sans Mono", "fontSize": 30, "fontWeight": "bold", "color": "#ccccff", "align": "left", "baseline": "alphabetic", "angle": 270},
 "encoding": {"x": {"datum": {"year": 2017, "month": 5, "date": 25, "utc": true}, "type": "temporal", "title": null}, "y": {"datum": 122.09, "type": "quantitative", "title": null}}},
{"data": {"values": [{"d": "2017-01-01"}, {"d": "2018-01-01"}, {"d": "2019-01-01"}, {"d": "2020-01-01"}, {"d": "2021-01-01"}]},
 "mark": {"type": "rule", "color": "black", "strokeWidth": 1, "strokeDash": [4, 3]},
 "encoding": {"x": {"field": "d", "type": "temporal", "title": null}}},
{"data": {"name": "fx"},
 "mark": {"type": "line", "strokeWidth": 1.1, "interpolate": "linear"},
 "encoding": {
  "x": {"field": "d", "type": "temporal", "title": null,
   "scale": {"type": "utc", "domain": [{"year": 2016, "month": 9, "date": 20, "utc": true}, {"year": 2021, "month": 9, "date": 20, "utc": true}]},
   "axis": {"values": [{"year": 2016, "month": 9, "date": 20, "utc": true}, {"year": 2017, "month": 1, "date": 1, "utc": true}, {"year": 2018, "month": 1, "date": 1, "utc": true}, {"year": 2019, "month": 1, "date": 1, "utc": true}, {"year": 2020, "month": 1, "date": 1, "utc": true}, {"year": 2021, "month": 1, "date": 1, "utc": true}, {"year": 2021, "month": 9, "date": 20, "utc": true}],
    "format": "%Y-%m-%d", "grid": false, "title": null, "domainColor": "black", "tickColor": "black", "tickSize": 4,
    "labelAngle": -35, "labelAlign": "right", "labelBaseline": "top", "labelFont": "Liberation Sans", "labelFontSize": 9, "labelColor": "black",
    "labelFontWeight": {"condition": {"test": "datum.index == 0 || datum.index == 1", "value": "bold"}, "value": "normal"},
    "labelPadding": 1, "labelOffset": 7, "labelOverlap": false, "labelBound": false, "labelFlush": false}},
  "y": {"field": "v", "type": "quantitative", "title": null,
   "scale": {"domain": [87.905, 130.27], "nice": false, "zero": false},
   "axis": {"values": [130.27], "labels": false, "grid": false, "title": null, "tickSize": 4, "domainColor": "black", "tickColor": "black"}},
  "color": {"field": "s", "type": "nominal",
   "scale": {"domain": ["label", "EUR", "JPY", "CNY", "NTD", "AUD", "SGD"], "range": ["#000000", "#ff00ff", "#ff0000", "#006400", "#0000ff", "#8b4513", "#8c8c8c"]},
   "legend": null}
 }}
]
},
{
"data": {"name": "tbl"},
"layer": [
{"transform": [{"filter": "datum.s == 'label'"}],
 "mark": {"type": "rect", "stroke": "black", "strokeWidth": 1},
 "encoding": {
  "x": {"field": "s", "type": "nominal", "scale": {"type": "band", "domain": ["label"], "range": [-30.5, 73.5], "paddingInner": 0, "paddingOuter": 0}, "axis": null},
  "y": {"field": "r", "type": "nominal", "scale": {"type": "band", "domain": ["h", "Max/Min:", "% di cambiamento:", "Max", "Min", "1°", "Ultimo"], "range": [474.5, 579.5], "paddingInner": 0, "paddingOuter": 0}, "axis": null},
  "fill": {"field": "r", "type": "nominal", "scale": {"domain": ["h", "Max/Min:", "% di cambiamento:", "Max", "Min", "1°", "Ultimo"], "range": ["#dcdcdc", "#ffffff", "#dcdcdc", "#ffffff", "#dcdcdc", "#ffffff", "#dcdcdc"]}, "legend": null}
 }},
{"transform": [{"filter": "datum.s != 'label'"}],
 "mark": {"type": "rect", "stroke": "black", "strokeWidth": 1},
 "encoding": {
  "x": {"field": "s", "type": "nominal", "scale": {"type": "band", "domain": ["EUR", "JPY", "CNY", "NTD", "AUD", "SGD"], "range": [73.5, 793.5], "paddingInner": 0, "paddingOuter": 0}, "axis": null},
  "y": {"field": "r", "type": "nominal", "scale": {"type": "band", "domain": ["h", "Max/Min:", "% di cambiamento:", "Max", "Min", "1°", "Ultimo"], "range": [474.5, 579.5], "paddingInner": 0, "paddingOuter": 0}, "axis": null},
  "fill": {"field": "r", "type": "nominal", "scale": {"domain": ["h", "Max/Min:", "% di cambiamento:", "Max", "Min", "1°", "Ultimo"], "range": ["#dcdcdc", "#ffffff", "#dcdcdc", "#ffffff", "#dcdcdc", "#ffffff", "#dcdcdc"]}, "legend": null}
 }},
{"transform": [{"filter": "datum.s == 'label'"}],
 "mark": {"type": "text", "align": "left", "baseline": "alphabetic", "dx": 1, "dy": -2, "fontSize": 13, "font": "Liberation Sans"},
 "encoding": {
  "x": {"field": "s", "type": "nominal", "bandPosition": 0, "scale": {"type": "band", "domain": ["label"], "range": [-30.5, 73.5], "paddingInner": 0, "paddingOuter": 0}, "axis": null},
  "y": {"field": "r", "type": "nominal", "bandPosition": 1, "scale": {"type": "band", "domain": ["h", "Max/Min:", "% di cambiamento:", "Max", "Min", "1°", "Ultimo"], "range": [474.5, 579.5], "paddingInner": 0, "paddingOuter": 0}, "axis": null},
  "text": {"field": "t"},
  "color": {"field": "s", "type": "nominal", "scale": {"domain": ["label", "EUR", "JPY", "CNY", "NTD", "AUD", "SGD"], "range": ["#000000", "#ff00ff", "#ff0000", "#006400", "#0000ff", "#8b4513", "#8c8c8c"]}, "legend": null}
 }},
{"transform": [{"filter": "datum.s != 'label'"}],
 "mark": {"type": "text", "align": "left", "baseline": "alphabetic", "dx": 2, "dy": -2, "fontSize": 13, "font": "Liberation Sans"},
 "encoding": {
  "x": {"field": "s", "type": "nominal", "bandPosition": 0, "scale": {"type": "band", "domain": ["EUR", "JPY", "CNY", "NTD", "AUD", "SGD"], "range": [73.5, 793.5], "paddingInner": 0, "paddingOuter": 0}, "axis": null},
  "y": {"field": "r", "type": "nominal", "bandPosition": 1, "scale": {"type": "band", "domain": ["h", "Max/Min:", "% di cambiamento:", "Max", "Min", "1°", "Ultimo"], "range": [474.5, 579.5], "paddingInner": 0, "paddingOuter": 0}, "axis": null},
  "text": {"field": "t"},
  "color": {"field": "s", "type": "nominal", "scale": {"domain": ["label", "EUR", "JPY", "CNY", "NTD", "AUD", "SGD"], "range": ["#000000", "#ff00ff", "#ff0000", "#006400", "#0000ff", "#8b4513", "#8c8c8c"]}, "legend": null}
 }}
],
"resolve": {"scale": {"x": "independent"}}
}
],
"resolve": {"scale": {"x": "independent", "y": "independent"}}
}
